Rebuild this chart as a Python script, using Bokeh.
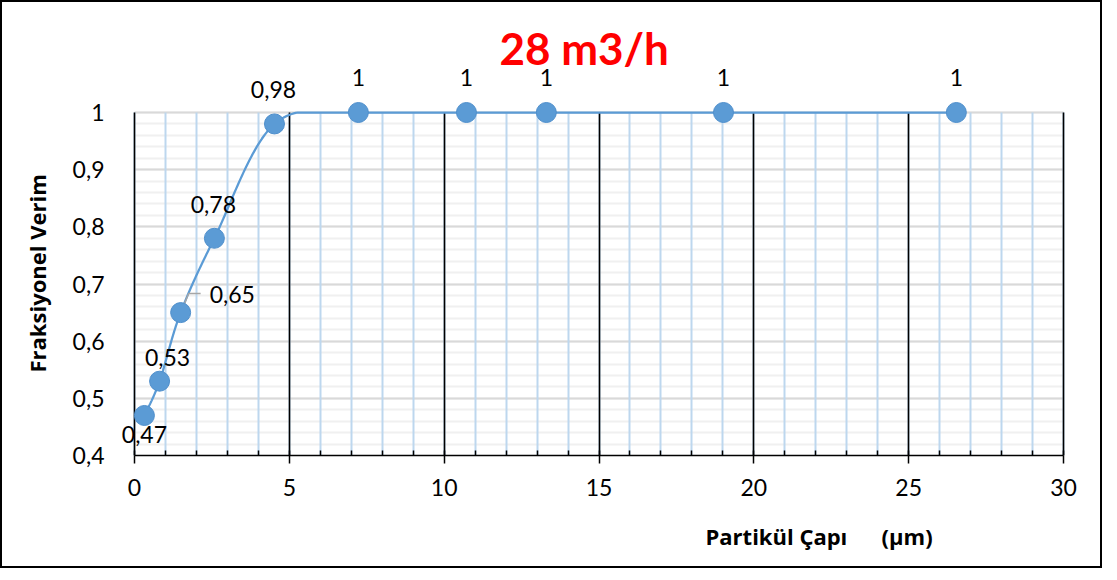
import numpy as np
from bokeh.plotting import figure
from bokeh.models import (Range1d, SingleIntervalTicker, CustomJSTickFormatter, Title, Label)
from bokeh.embed import file_html
from bokeh.resources import INLINE

# ---------------- data ----------------
title_text = "28 m3/h"
x_label = "Partikül Çapı" + "\u00a0" * 6 + "(µm)"
y_label = "Fraksiyonel Verim"
particle_size = [0.32, 0.81, 1.49, 2.58, 4.52, 7.23, 10.72, 13.30, 19.02, 26.54]
efficiency = [0.47, 0.53, 0.65, 0.78, 0.98, 1, 1, 1, 1, 1]
x_limits = [0, 30]
y_limits = [0.4, 1.0]

# ---------------- label styling (screen px, +y = up) ----------------
lab_dx = [0, 8, 29, -1, -1, 0, 0, 0, 0, 0]
lab_dy = [-19, 24, 18, 34, 34, 35, 35, 35, 35, 35]
lab_align = ["center", "center", "left", "center", "center", "center", "center", "center", "center", "center"]

FONT = "Lato"
LABEL_FONT = "Open Sans"
BLUE = "#5b9bd5"

# ---------------- layout (px) ----------------
W, H = 1102, 568
data_left, data_right, data_top, data_bottom = 132, 1061, 110, 453
pad_left, pad_right = 20, 4
px_x = (data_right - data_left) / (x_limits[1] - x_limits[0])
px_y = (data_bottom - data_top) / (y_limits[1] - y_limits[0])

def sx_to_x(sx):
    return x_limits[0] + (sx - data_left) / px_x

def sy_to_y(sy):
    return y_limits[0] + (data_bottom - sy) / px_y

p = figure(width=W, height=H, output_backend="svg", toolbar_location=None,
           x_range=Range1d(sx_to_x(data_left - pad_left), sx_to_x(data_right + pad_right)),
           y_range=Range1d(y_limits[0], sy_to_y(0)),
           min_border_left=data_left - pad_left, min_border_right=W - data_right - pad_right,
           min_border_top=0, min_border_bottom=H - data_bottom)
p.styles = {"border": "2px solid black"}
p.outline_line_color = None
p.background_fill_color = "white"
p.border_fill_color = "white"

xt = SingleIntervalTicker(interval=5, num_minor_ticks=5)
yt = SingleIntervalTicker(interval=0.1, num_minor_ticks=5)
p.xaxis.ticker = xt
p.yaxis.ticker = yt
p.xgrid.ticker = xt
p.ygrid.ticker = yt

fmt = CustomJSTickFormatter(code="return (Math.round(tick*10)/10).toString().replace('.', ',');")
p.xaxis.formatter = fmt
p.yaxis.formatter = fmt

# grids (limited to the data area)
p.xgrid.grid_line_color = "black"
p.xgrid.grid_line_width = 1.6
p.xgrid.minor_grid_line_color = "#bdd7ee"
p.xgrid.minor_grid_line_width = 2
p.xgrid.bounds = (x_limits[0], x_limits[1])
p.xgrid.cross_bounds = (y_limits[0], y_limits[1])
p.ygrid.grid_line_color = "#d9d9d9"
p.ygrid.grid_line_width = 2
p.ygrid.minor_grid_line_color = "#f0f0f0"
p.ygrid.minor_grid_line_width = 2
p.ygrid.bounds = (y_limits[0], y_limits[1])
p.ygrid.cross_bounds = (x_limits[0], x_limits[1])
p.ygrid.level = "image"

# axes
for ax in p.xaxis:
    ax.bounds = (x_limits[0], x_limits[1])
    ax.axis_line_color = "black"
    ax.axis_line_width = 1.5
    ax.major_tick_line_color = "black"
    ax.major_tick_line_width = 1.5
    ax.major_tick_out = 8
    ax.major_tick_in = 0
    ax.minor_tick_line_color = "black"
    ax.minor_tick_line_width = 1.5
    ax.minor_tick_in = 5
    ax.minor_tick_out = 0
    ax.major_label_text_font = FONT
    ax.major_label_text_font_size = "23px"
    ax.major_label_text_color = "#000000"
    ax.major_label_standoff = 15
for ax in p.yaxis:
    ax.bounds = (y_limits[0], y_limits[1])
    ax.axis_line_color = None
    ax.major_tick_line_color = None
    ax.minor_tick_line_color = None
    ax.major_label_text_font = FONT
    ax.major_label_text_font_size = "23px"
    ax.major_label_text_color = "#000000"
    ax.major_label_standoff = 24 - pad_left

# axis titles
yl = Title(text=y_label, align="left", vertical_align="middle",
           offset=H - 370 - (H - data_bottom), text_font=LABEL_FONT,
           text_font_size="22px", text_font_style="bold", text_color="#000000", standoff=33)
p.add_layout(yl, "left")
xl = Title(text=x_label, align="left", offset=pad_left + 571,
           text_font=LABEL_FONT, text_font_size="22px",
           text_font_style="bold", text_color="#000000", standoff=40)
p.add_layout(xl, "below")

# chart title inside the (extended) frame
p.add_layout(Label(x=sx_to_x(497), y=sy_to_y(45), text=title_text, text_align="left",
                   text_baseline="middle", text_font=FONT, text_font_size="44px",
                   text_font_style="bold", text_color="#ff0000"))

# smoothed curve (Excel-like Bezier through the points)
def smooth(xs, ys, n=40):
    P = np.column_stack([xs, ys]).astype(float)
    out = [P[0]]
    for i in range(len(P) - 1):
        p0 = P[i - 1] if i > 0 else P[i]
        p1, p2 = P[i], P[i + 1]
        p3 = P[i + 2] if i + 2 < len(P) else P[i + 1]
        c1 = p1 + (p2 - p0) / 6
        c2 = p2 - (p3 - p1) / 6
        tt = np.linspace(0, 1, n)[1:, None]
        seg = (1 - tt) ** 3 * p1 + 3 * (1 - tt) ** 2 * tt * c1 + 3 * (1 - tt) * tt ** 2 * c2 + tt ** 3 * p2
        out.extend(seg)
    return np.array(out)

curve = smooth(particle_size, efficiency)
# the plot area ends at the axis maximum, so the curve is clipped there (as in the original)
p.line(curve[:, 0], np.minimum(curve[:, 1], y_limits[1]), line_color=BLUE, line_width=2.25)

# leader line for the 0,65 label
i = 2
lx = [particle_size[i] + 1 / px_x, particle_size[i] + 8 / px_x, particle_size[i] + 20 / px_x]
ly = [efficiency[i] + 2 / px_y, efficiency[i] + 19 / px_y, efficiency[i] + 19 / px_y]
p.line(lx, ly, line_color="#a6a6a6", line_width=1.5)

# markers
p.scatter(particle_size, efficiency, size=20, fill_color=BLUE, line_color="#4f8fcc", line_width=1)

# data labels
for xv, yv, dx, dy, al in zip(particle_size, efficiency, lab_dx, lab_dy, lab_align):
    txt = f"{yv:g}".replace(".", ",")
    p.add_layout(Label(x=xv, y=yv, text=txt, x_offset=dx, y_offset=dy, text_align=al,
                       text_baseline="middle", text_font=FONT, text_font_size="23px",
                       text_color="#000000"))

open("out.html", "w").write(file_html(p, INLINE))
